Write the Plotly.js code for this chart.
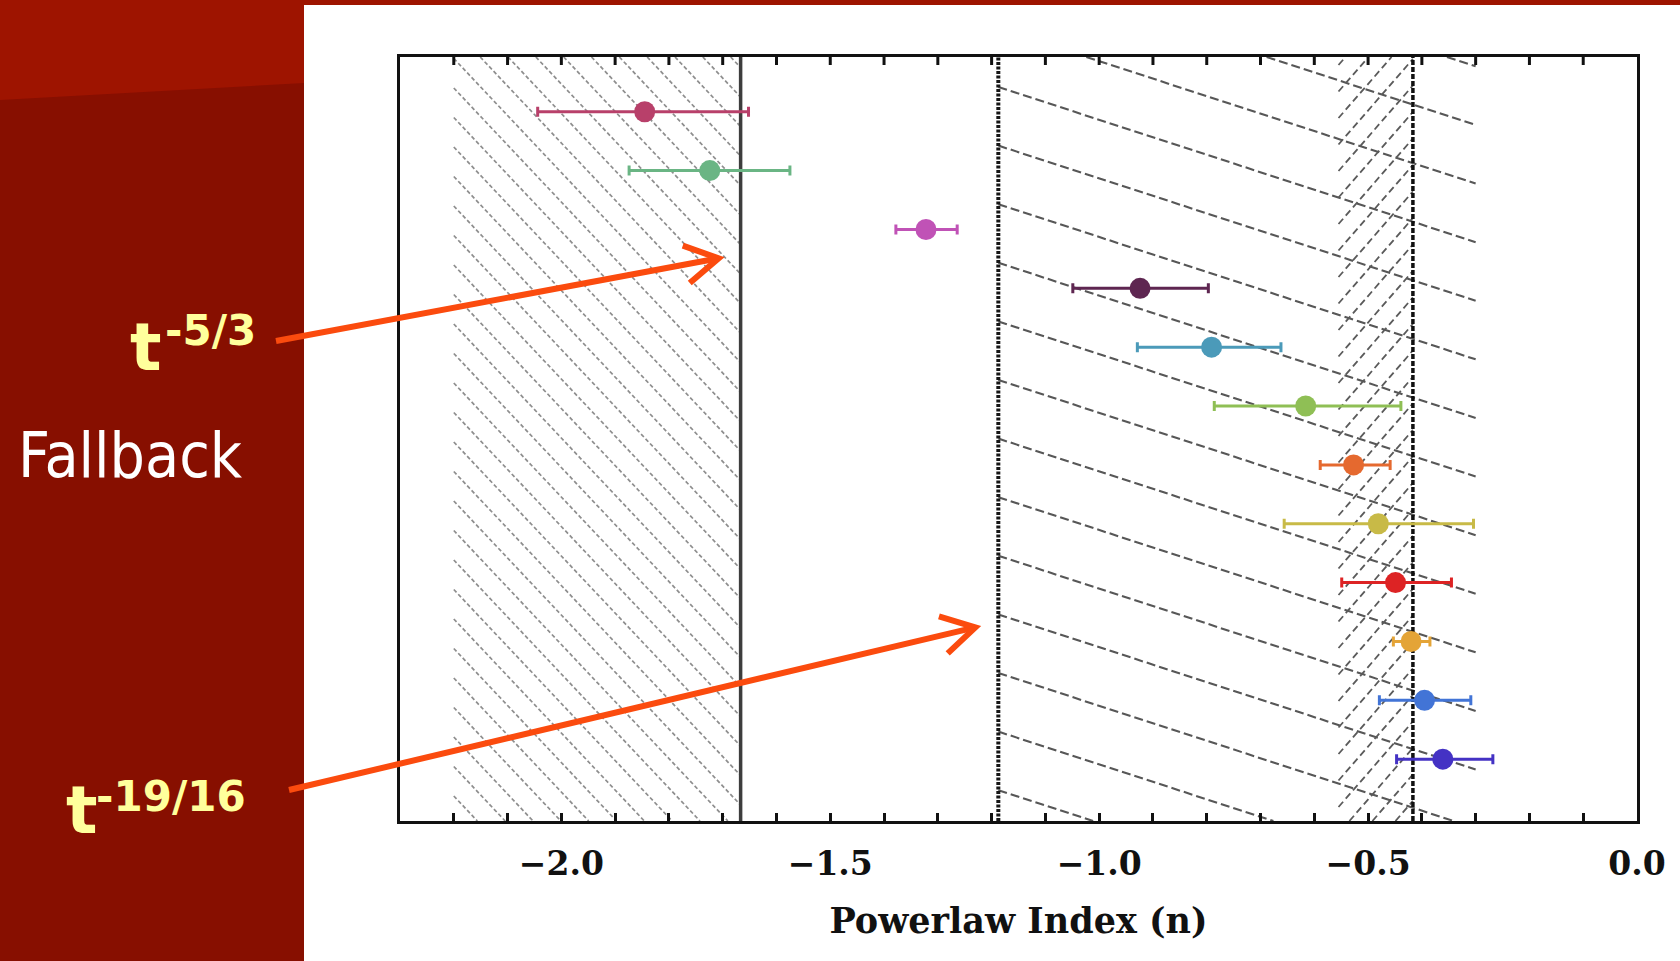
<!DOCTYPE html>
<html>
<head>
<meta charset="utf-8">
<script src="https://cdn.plot.ly/plotly-3.0.1.min.js"></script>
<style>
  html, body { margin: 0; padding: 0; background: #ffffff; overflow: hidden; }
  #chart { width: 1680px; height: 961px; }
</style>
</head>
<body>
<div id="chart"></div>
<script>
// Fitted power-law decay indices n, one row per source (top to bottom)
const rows = [1, 2, 3, 4, 5, 6, 7, 8, 9, 10, 11, 12];
const indexN = [-1.845, -1.724, -1.322, -0.924, -0.791, -0.616, -0.527, -0.481, -0.449, -0.420, -0.395, -0.361];
const errPlus = [0.193, 0.149, 0.058, 0.127, 0.129, 0.177, 0.068, 0.177, 0.104, 0.035, 0.086, 0.093];
const errMinus = [0.199, 0.150, 0.056, 0.125, 0.138, 0.170, 0.062, 0.175, 0.100, 0.033, 0.084, 0.086];
const pointColors = ['#b8406a', '#6ab584', '#c052b6', '#5e2651', '#4b9ab9', '#8fbf55',
                     '#e5692f', '#c8ba47', '#dd2324', '#e4a437', '#4274d6', '#4432c4'];

// Reference slopes drawn as vertical lines
const slopeFallback = -5 / 3;
const slopeSpread = -19 / 16;
const slopeLate = -5 / 12;

// Hatched bands [from, to] in n
const bandLeft = [-2.2, -5 / 3];
const bandMid = [-19 / 16, -0.3];
const bandRight = [-0.555, -5 / 12];

// Axis ticks
const tickVals = [-2.0, -1.5, -1.0, -0.5, 0.0];
const tickText = ['\u22122.0', '\u22121.5', '\u22121.0', '\u22120.5', '0.0'];

// Side-panel labels
const labelTop = { base: 't', exp: '-5/3' };
const labelBottom = { base: 't', exp: '-19/16' };
const sideTitle = 'Fallback';

// ---- geometry helpers (page pixels <-> axis values) ----
const W = 1680, H = 961;
const M = { l: 400, r: 43, t: 57, b: 140 };
const PW = W - M.l - M.r, PH = H - M.t - M.b;
const xRange = [-2.3, 0];
const yRange = [13.05, 0.07];

const xToPx = v => M.l + (v - xRange[0]) / (xRange[1] - xRange[0]) * PW;
const pxToX = p => xRange[0] + (p - M.l) / PW * (xRange[1] - xRange[0]);
const yToPx = v => M.t + (v - yRange[1]) / (yRange[0] - yRange[1]) * PH;
const pxToY = p => yRange[1] + (p - M.t) / PH * (yRange[0] - yRange[1]);
const paperX = p => (p - M.l) / PW;
const paperY = p => 1 - (p - M.t) / PH;

// Family of parallel hatch lines (screen slope, vertical spacing in px) clipped to a band
function hatch(band, slope, spacing, anchor) {
  const xa = xToPx(band[0]), xb = xToPx(band[1]);
  const ya = M.t, yb = M.t + PH;
  const c0 = anchor[1] - slope * anchor[0];
  const cs = [ya - slope * xa, ya - slope * xb, yb - slope * xa, yb - slope * xb];
  const kMin = Math.ceil((Math.min(...cs) - c0) / spacing);
  const kMax = Math.floor((Math.max(...cs) - c0) / spacing);
  const xs = [], ys = [];
  for (let k = kMin; k <= kMax; k++) {
    const c = c0 + k * spacing;
    const t1 = (ya - c) / slope, t2 = (yb - c) / slope;
    const lo = Math.max(xa, Math.min(t1, t2));
    const hi = Math.min(xb, Math.max(t1, t2));
    if (hi - lo < 1) continue;
    xs.push(pxToX(lo), pxToX(hi), null);
    ys.push(pxToY(slope * lo + c), pxToY(slope * hi + c), null);
  }
  return { xs, ys };
}

function hatchTrace(h, color, width, dash) {
  return {
    x: h.xs, y: h.ys, type: 'scatter', mode: 'lines', hoverinfo: 'skip',
    connectgaps: false, showlegend: false,
    line: { color: color, width: width, dash: dash }
  };
}

function vLine(v, color, width, dash) {
  return {
    x: [v, v], y: [yRange[0], yRange[1]], type: 'scatter', mode: 'lines',
    hoverinfo: 'skip', showlegend: false,
    line: { color: color, width: width, dash: dash }
  };
}

const traces = [];
traces.push(hatchTrace(hatch(bandLeft, 1.06, 29.5, [xToPx(bandLeft[0]), 88]), '#8e8e8e', 1.7, '4px,2.5px'));
traces.push(hatchTrace(hatch(bandMid, 0.325, 58.6, [xToPx(bandMid[0]), 87]), '#575757', 2.1, '9px,4px'));
traces.push(hatchTrace(hatch(bandRight, -1.15, 26.5, [xToPx(bandRight[0]), 118]), '#5a5a5a', 1.8, '7px,4px'));

traces.push(vLine(slopeFallback, '#3d3d3d', 3.5, 'solid'));
traces.push(vLine(slopeSpread, '#161616', 4, '3px,1.5px'));
traces.push(vLine(slopeLate, '#111111', 3.5, '5px,2px'));

// Measured indices with horizontal error bars
rows.forEach((r, i) => {
  traces.push({
    x: [indexN[i]], y: [r], type: 'scatter', mode: 'markers', showlegend: false,
    marker: { color: pointColors[i], size: 21, line: { width: 0 } },
    error_x: {
      type: 'data', symmetric: false, array: [errPlus[i]], arrayminus: [errMinus[i]],
      color: pointColors[i], thickness: 3, width: 5
    },
    cliponaxis: false
  });
});

// ---- decoration: side panel, arrows, labels, top tick marks ----
const RED_DARK = '#870f00', RED_BRIGHT = '#9e1400', ARROW = '#fb4b0e', LABEL = '#ffff9c';
const shapes = [
  { type: 'rect', xref: 'paper', yref: 'paper', layer: 'below',
    x0: paperX(0), x1: paperX(304), y0: paperY(H), y1: paperY(0),
    fillcolor: RED_DARK, line: { width: 0 } },
  { type: 'path', xref: 'paper', yref: 'paper', layer: 'below',
    path: `M ${paperX(0)} ${paperY(0)} L ${paperX(304)} ${paperY(0)} L ${paperX(304)} ${paperY(83)} L ${paperX(0)} ${paperY(100)} Z`,
    fillcolor: RED_BRIGHT, line: { width: 0 } },
  { type: 'rect', xref: 'paper', yref: 'paper', layer: 'below',
    x0: paperX(0), x1: paperX(W), y0: paperY(5), y1: paperY(0),
    fillcolor: RED_BRIGHT, line: { width: 0 } }
];

// inward tick marks along the top frame, every 0.1 in n
const TICK_LEN = 8, TICK_W = 3;
for (let k = Math.ceil(xRange[0] * 10 + 1e-9); k <= Math.floor(xRange[1] * 10 - 1e-9); k++) {
  shapes.push({ type: 'line', xref: 'x', yref: 'paper', layer: 'above',
    x0: k / 10, x1: k / 10, y0: 1, y1: 1 - TICK_LEN / PH,
    line: { color: '#111111', width: TICK_W } });
}

function arrow(tailPx, targetX, tipY, gapPx) {
  const tip = [xToPx(targetX) - gapPx, yToPx(tipY)];
  const dx = tip[0] - tailPx[0], dy = tip[1] - tailPx[1];
  const len = Math.hypot(dx, dy);
  const ux = -dx / len, uy = -dy / len;
  const a = 30 * Math.PI / 180, L = 38;
  const leg = s => [tip[0] + L * (ux * Math.cos(s * a) - uy * Math.sin(s * a)),
                    tip[1] + L * (ux * Math.sin(s * a) + uy * Math.cos(s * a))];
  const p1 = leg(1), p2 = leg(-1);
  const P = p => `${paperX(p[0])} ${paperY(p[1])}`;
  return [
    { type: 'path', xref: 'paper', yref: 'paper', layer: 'above',
      path: `M ${P(tailPx)} L ${P(tip)}`, line: { color: ARROW, width: 6 } },
    { type: 'path', xref: 'paper', yref: 'paper', layer: 'above',
      path: `M ${P(p1)} L ${P(tip)} L ${P(p2)}`, line: { color: ARROW, width: 6 } }
  ];
}
shapes.push(...arrow([276, 341], slopeFallback, 3.49, 22));
shapes.push(...arrow([289, 790], slopeSpread, 9.76, 23));

const sideFont = 'DejaVu Sans Condensed, Liberation Sans, sans-serif';
const boldFont = 'DejaVu Sans, Verdana, sans-serif';
function note(text, px, py, xanchor, font) {
  return { text: text, xref: 'paper', yref: 'paper', x: paperX(px), y: paperY(py),
           xanchor: xanchor, yanchor: 'middle', showarrow: false, font: font };
}
const annotations = [
  note(sideTitle, 16, 456, 'left', { family: sideFont, size: 62, color: '#ffffff' }),
  note(labelTop.base, 146, 347, 'center', { family: boldFont, size: 66, color: LABEL, weight: 'bold' }),
  note(labelTop.exp, 210, 330, 'center', { family: boldFont, size: 42, color: LABEL, weight: 'bold' }),
  note(labelBottom.base, 82, 810, 'center', { family: boldFont, size: 66, color: LABEL, weight: 'bold' }),
  note(labelBottom.exp, 171, 796, 'center', { family: boldFont, size: 42, color: LABEL, weight: 'bold' })
];

const serif = { family: 'DejaVu Serif, Liberation Serif, serif', size: 33, color: '#111111', weight: 'bold' };

const layout = {
  width: W, height: H,
  margin: M,
  paper_bgcolor: '#ffffff', plot_bgcolor: '#ffffff',
  showlegend: false,
  xaxis: {
    range: xRange, autorange: false, fixedrange: true,
    showgrid: false, zeroline: false,
    showline: true, linecolor: '#111111', linewidth: 3, mirror: true,
    tickmode: 'array', tickvals: tickVals, ticktext: tickText,
    ticks: 'inside', ticklen: TICK_LEN, tickwidth: TICK_W, tickcolor: '#111111',
    minor: { tickmode: 'linear', tick0: 0, dtick: 0.1, ticks: 'inside', ticklen: TICK_LEN,
             tickwidth: TICK_W, tickcolor: '#111111', showgrid: false },
    tickfont: serif, ticklabelstandoff: 11,
    title: { text: 'Powerlaw Index (n)', font: Object.assign({}, serif, { size: 35 }), standoff: 27 }
  },
  yaxis: {
    range: yRange, autorange: false, fixedrange: true,
    showgrid: false, zeroline: false, showticklabels: false, ticks: '',
    showline: true, linecolor: '#111111', linewidth: 3, mirror: true
  },
  shapes: shapes,
  annotations: annotations
};

Plotly.newPlot('chart', traces, layout, { staticPlot: true, displayModeBar: false });
</script>
</body>
</html>
